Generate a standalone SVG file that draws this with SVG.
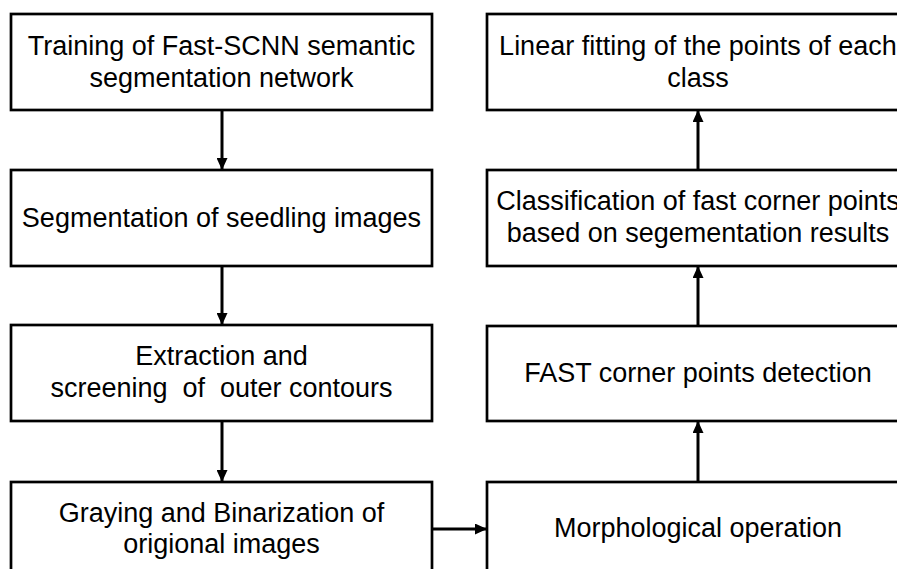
<svg xmlns="http://www.w3.org/2000/svg" width="897" height="569" viewBox="0 0 897 569">
<style>
.box{fill:#fff;stroke:#000;stroke-width:2.7}
.t{font-family:"Liberation Sans",Arial,sans-serif;font-size:27px;fill:#000;text-anchor:middle}
.c{stroke:#000;stroke-width:3;fill:none;marker-end:url(#ah)}
</style>
<defs>
<marker id="ah" markerUnits="userSpaceOnUse" markerWidth="12" markerHeight="11" viewBox="0 0 12 11" refX="12" refY="5.5" orient="auto">
<path d="M0,0 L12,5.5 L0,11 z" fill="#000"/>
</marker>
</defs>
<rect width="897" height="569" fill="#fff"/>
<g id="n1"><rect class="box" x="11" y="14" width="421" height="96"/><text class="t" x="221.5" y="55">Training of Fast-SCNN semantic</text><text class="t" x="221.5" y="87">segmentation network</text></g>
<g id="n2"><rect class="box" x="11" y="170" width="421" height="96"/><text class="t" x="221.5" y="227">Segmentation of seedling images</text></g>
<g id="n3"><rect class="box" x="11" y="325" width="421" height="96"/><text class="t" x="221.5" y="365">Extraction and</text><text class="t" x="221.5" y="397" xml:space="preserve">screening  of  outer contours</text></g>
<g id="n4"><rect class="box" x="11" y="482" width="421" height="100"/><text class="t" x="221.5" y="522">Graying and Binarization of</text><text class="t" x="221.5" y="553">origional images</text></g>
<g id="n5"><rect class="box" x="487" y="14" width="422" height="96"/><text class="t" x="698" y="55">Linear fitting of the points of each</text><text class="t" x="698" y="87">class</text></g>
<g id="n6"><rect class="box" x="487" y="170" width="422" height="96"/><text class="t" x="698" y="210">Classification of fast corner points</text><text class="t" x="698" y="242">based on segementation results</text></g>
<g id="n7"><rect class="box" x="487" y="326" width="422" height="95"/><text class="t" x="698" y="382">FAST corner points detection</text></g>
<g id="n8"><rect class="box" x="487" y="482" width="422" height="100"/><text class="t" x="698" y="537">Morphological operation</text></g>
<g id="connectors">
<line class="c" x1="222" y1="110" x2="222" y2="170"/>
<line class="c" x1="222" y1="266" x2="222" y2="325"/>
<line class="c" x1="222" y1="421" x2="222" y2="482"/>
<line class="c" x1="432" y1="529" x2="487" y2="529"/>
<line class="c" x1="698" y1="482" x2="698" y2="421"/>
<line class="c" x1="698" y1="326" x2="698" y2="266"/>
<line class="c" x1="698" y1="170" x2="698" y2="110"/>
</g>
</svg>
